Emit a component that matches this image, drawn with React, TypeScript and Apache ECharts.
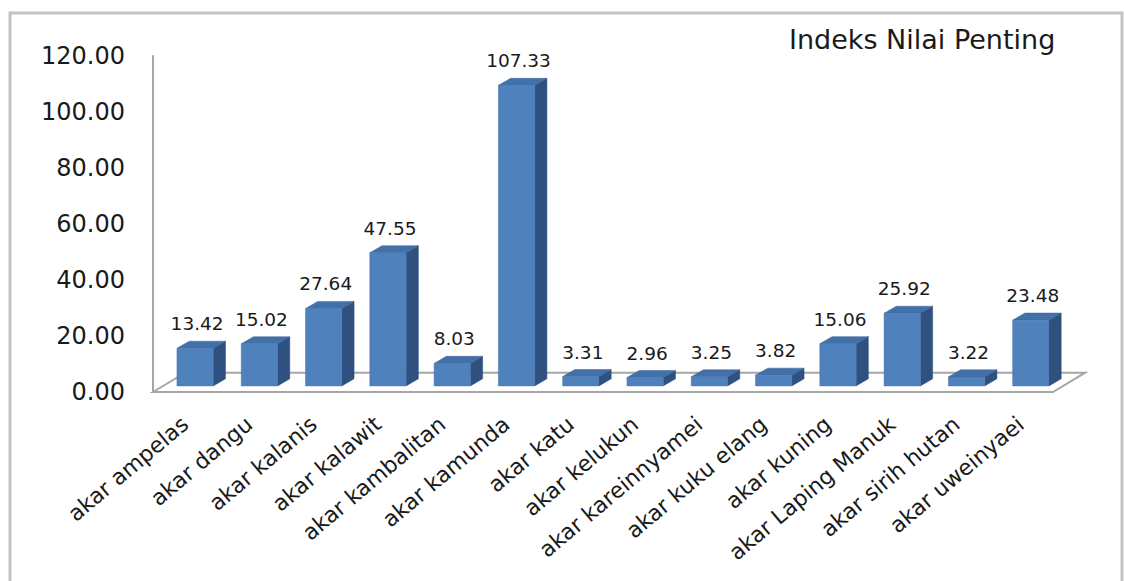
import React, { useEffect, useRef } from "react";
import * as echarts from "echarts";

const categories = [
  "akar ampelas",
  "akar dangu",
  "akar kalanis",
  "akar kalawit",
  "akar kambalitan",
  "akar kamunda",
  "akar katu",
  "akar kelukun",
  "akar kareinnyamei",
  "akar kuku elang",
  "akar kuning",
  "akar Laping Manuk",
  "akar sirih hutan",
  "akar uweinyaei",
];
const values = [13.42, 15.02, 27.64, 47.55, 8.03, 107.33, 3.31, 2.96, 3.25, 3.82, 15.06, 25.92, 3.22, 23.48];
const yTicks = { min: 0, max: 120, interval: 20 };
const title = "Indeks Nilai Penting";

const FONT = "DejaVu Sans";
const TEXT = "#1a1a1a";

export default function App() {
  const ref = useRef<HTMLDivElement>(null);
  useEffect(() => {
    if (!ref.current) return;
    const chart = echarts.init(ref.current, null, { renderer: "svg" });
    const option: any = {
      animation: false,
      backgroundColor: "#ffffff",
      title: {
        text: title,
        left: 784,
        top: 21,
        textStyle: { fontFamily: FONT, fontSize: 27, fontWeight: "normal", color: TEXT },
      },
      graphic: [
        {
          type: "rect",
          shape: { x: 10, y: 13, width: 1112, height: 620 },
          style: { fill: "none", stroke: "#c4c4c4", lineWidth: 3 },
          silent: true,
          z: -10,
        },
      ],
      grid: { left: 153, top: 56, width: 900, height: 336, containLabel: false },
      xAxis: {
        type: "category",
        data: categories,
        axisLine: { show: false },
        axisTick: { show: false },
        axisLabel: {
          rotate: 40,
          interval: 0,
          margin: 29,
          fontFamily: FONT,
          fontSize: 22,
          color: TEXT,
        },
      },
      yAxis: {
        type: "value",
        min: yTicks.min,
        max: yTicks.max,
        interval: yTicks.interval,
        axisLine: { show: true, lineStyle: { color: "#a6a6a6", width: 2 } },
        axisTick: { show: false },
        splitLine: { show: false },
        axisLabel: {
          margin: 28,
          fontFamily: FONT,
          fontSize: 24,
          color: TEXT,
          formatter: (v: number) => v.toFixed(2),
        },
      },
      series: [
        {
          type: "custom",
          z: 1,
          silent: true,
          data: [[0, 0]],
          renderItem: (params: any, api: any) => {
            const cs = params.coordSys;
            const bw = cs.width / categories.length;
            const dx = bw * 0.5;
            const dy = -bw * 0.3;
            const x0 = cs.x;
            const y0 = cs.y + cs.height;
            const x1 = cs.x + cs.width;
            return {
              type: "polygon",
              shape: {
                points: [
                  [x0, y0],
                  [x0 + dx, y0 + dy],
                  [x1 + dx, y0 + dy],
                  [x1, y0],
                ],
              },
              style: { fill: "#ffffff", stroke: "#a6a6a6", lineWidth: 2 },
            };
          },
        },
        {
          type: "custom",
          z: 2,
          data: values.map((v, i) => [i, v]),
          renderItem: (params: any, api: any) => {
            const idx = api.value(0);
            const val = api.value(1);
            const base = api.coord([idx, 0]);
            const top = api.coord([idx, val]);
            const bw = api.size([1, 0])[0];
            const w = bw * 0.565;
            const ox = bw * 0.155;
            const oy = -bw * 0.095;
            const dx = bw * 0.19;
            const dy = -bw * 0.11;
            const cx = base[0] + ox;
            const x = cx - w / 2;
            const yb = base[1] + oy;
            const yt = top[1] + oy;
            return {
              type: "group",
              children: [
                {
                  type: "polygon",
                  shape: {
                    points: [
                      [x + w, yt],
                      [x + w + dx, yt + dy],
                      [x + w + dx, yb + dy],
                      [x + w, yb],
                    ],
                  },
                  style: { fill: "#2f5180", stroke: "#2a4a75", lineWidth: 0.5 },
                },
                {
                  type: "polygon",
                  shape: {
                    points: [
                      [x, yt],
                      [x + dx, yt + dy],
                      [x + w + dx, yt + dy],
                      [x + w, yt],
                    ],
                  },
                  style: { fill: "#4270a8", stroke: "#3a6398", lineWidth: 0.5 },
                },
                {
                  type: "rect",
                  shape: { x: x, y: yt, width: w, height: yb - yt },
                  style: { fill: "#4f81bd", stroke: "#4675ae", lineWidth: 0.5 },
                },
                {
                  type: "text",
                  style: {
                    text: val.toFixed(2),
                    x: cx + 2,
                    y: yt + dy - 8,
                    align: "center",
                    verticalAlign: "bottom",
                    fontFamily: FONT,
                    fontSize: 18.5,
                    fill: TEXT,
                  },
                },
              ],
            };
          },
        },
      ],
    };
    chart.setOption(option);
    return () => chart.dispose();
  }, []);
  return (
    <div
      ref={ref}
      style={{ position: "absolute", left: 0, top: 0, width: 1124, height: 581 }}
    />
  );
}
